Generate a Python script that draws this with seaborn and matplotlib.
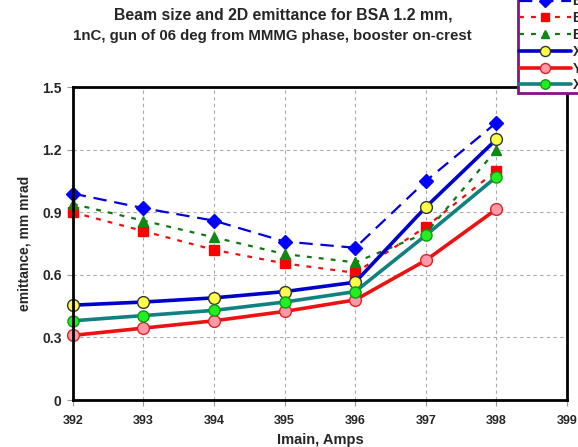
import matplotlib
matplotlib.use("Agg")
import matplotlib.pyplot as plt
import seaborn as sns
import pandas as pd

# Main solenoid current, A
imain = [392, 393, 394, 395, 396, 397, 398]

# Beam size series (dashed)
beam_x = [0.99, 0.92, 0.86, 0.76, 0.73, 1.05, 1.33]
beam_y = [0.90, 0.81, 0.72, 0.655, 0.61, 0.83, 1.10]
beam_xy = [0.94, 0.86, 0.78, 0.70, 0.66, 0.80, 1.20]

# Emittance series (solid)
emit_x = [0.455, 0.47, 0.49, 0.52, 0.565, 0.925, 1.25]
emit_y = [0.31, 0.345, 0.38, 0.425, 0.48, 0.67, 0.915]
emit_xy = [0.38, 0.405, 0.43, 0.47, 0.52, 0.79, 1.07]

labels = ["Beam size X", "Beam size Y", "Beam size XY",
          "X emittance", "Y emittance", "XY emittance"]

x_ticks = [392, 393, 394, 395, 396, 397, 398, 399]
y_ticks = [0, 0.3, 0.6, 0.9, 1.2, 1.5]
y_tick_labels = ["0", "0.3", "0.6", "0.9", "1.2", "1.5"]

sns.set_theme(style="white")
plt.rcParams["font.family"] = ["Liberation Sans", "DejaVu Sans"]
plt.rcParams["font.weight"] = "bold"

fig = plt.figure(figsize=(5.78, 4.47), dpi=100)
ax = fig.add_axes([0.126, 0.105, 0.855, 0.700])

styles = [
    dict(values=beam_x, color="#0000dd", marker="D", ms=7.5, mfc="#0000ff", mec="#0000ff",
         ls=(0, (6, 3.5)), lw=1.6),
    dict(values=beam_y, color="#ee1111", marker="s", ms=7, mfc="#ff0000", mec="#ff0000",
         ls=(0, (2.2, 3.2)), lw=1.6),
    dict(values=beam_xy, color="#117711", marker="^", ms=7.5, mfc="#118811", mec="#118811",
         ls=(0, (2.2, 3.2)), lw=1.6),
    dict(values=emit_x, color="#0000cc", marker="o", ms=8.5, mfc="#ffff44", mec="#333333",
         ls="-", lw=2.6),
    dict(values=emit_y, color="#ee1111", marker="o", ms=8.5, mfc="#ff99aa", mec="#dd2222",
         ls="-", lw=2.6),
    dict(values=emit_xy, color="#118080", marker="o", ms=8, mfc="#22ee22", mec="#119911",
         ls="-", lw=2.6),
]

for st, lab in zip(styles, labels):
    df = pd.DataFrame({"Imain": imain, "emit": st["values"]})
    sns.lineplot(data=df, x="Imain", y="emit", ax=ax, color=st["color"],
                 marker=st["marker"], markersize=st["ms"], markerfacecolor=st["mfc"],
                 markeredgecolor=st["mec"], markeredgewidth=1.0,
                 linestyle=st["ls"], linewidth=st["lw"], label=lab, clip_on=False,
                 zorder=3)

ax.set_xlim(392, 399)
ax.set_ylim(0, 1.5)
ax.set_xticks(x_ticks)
ax.set_xticklabels([str(t) for t in x_ticks], fontsize=9, fontweight="bold")
ax.set_yticks(y_ticks)
ax.set_yticklabels(y_tick_labels, fontsize=10, fontweight="bold")
ax.tick_params(axis="both", direction="out", length=4, width=0.8, color="#999999",
               pad=4, bottom=True, left=True)
ax.tick_params(axis="x", pad=7)
ax.grid(True, color="#aaaaaa", linestyle=(0, (3, 3)), linewidth=0.8)
for sp in ax.spines.values():
    sp.set_color("black")
    sp.set_linewidth(2)
    sp.set_zorder(4)

ax.set_xlabel("Imain, Amps", fontsize=10.5, fontweight="bold", labelpad=4)
ax.set_ylabel("emittance, mm mrad", fontsize=10, fontweight="bold", labelpad=8)

fig.text(0.490, 0.966, "Beam size and 2D emittance for BSA 1.2 mm,",
         ha="center", va="center", fontsize=11.3, fontweight="bold")
fig.text(0.471, 0.919, "1nC, gun of 06 deg from MMMG phase, booster on-crest",
         ha="center", va="center", fontsize=10.8, fontweight="bold")

leg = ax.legend(loc="lower left", bbox_to_anchor=(0.896, 0.792),
                bbox_transform=fig.transFigure, fontsize=10, markerscale=0.85,
                frameon=True, fancybox=False, handlelength=3.75, handletextpad=0.15,
                labelspacing=0.2, borderpad=0.05, borderaxespad=0)
leg.get_frame().set_edgecolor("#881188")
leg.get_frame().set_linewidth(2)
leg.get_frame().set_facecolor("white")
leg.get_frame().set_alpha(1)
for t in leg.get_texts():
    t.set_fontweight("bold")
leg.set_zorder(10)

fig.savefig("out.png", dpi=100)
